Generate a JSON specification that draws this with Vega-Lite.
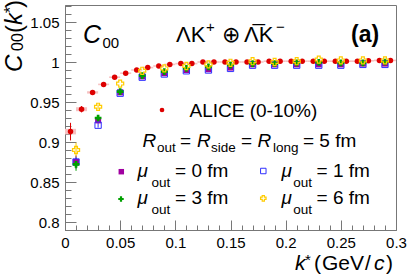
{
  "$schema": "https://vega.github.io/schema/vega-lite/v6.json",
  "width": 331,
  "height": 225,
  "autosize": {"type": "none"},
  "padding": {"left": 65, "top": 5, "right": 11, "bottom": 45},
  "background": "white",
  "config": {
    "view": {"stroke": "#777", "strokeWidth": 1},
    "text": {"font": "Liberation Sans", "color": "black", "align": "left", "baseline": "alphabetic"}
  },
  "datasets": {
    "alice": [
      {"k": 0.005, "c": 0.913, "elo": 0.902, "ehi": 0.924, "klo": 0.0, "khi": 0.01, "slo": 0.9095, "shi": 0.9165},
      {"k": 0.015, "c": 0.941, "elo": 0.937, "ehi": 0.945, "klo": 0.01, "khi": 0.02, "slo": 0.9385, "shi": 0.9435},
      {"k": 0.025, "c": 0.962, "elo": 0.960, "ehi": 0.964, "klo": 0.02, "khi": 0.03, "slo": 0.9605, "shi": 0.9635},
      {"k": 0.035, "c": 0.972, "elo": 0.971, "ehi": 0.973, "klo": 0.03, "khi": 0.04, "slo": 0.971, "shi": 0.973},
      {"k": 0.045, "c": 0.981, "elo": 0.980, "ehi": 0.982, "klo": 0.04, "khi": 0.05, "slo": 0.980, "shi": 0.982},
      {"k": 0.055, "c": 0.986, "elo": 0.985, "ehi": 0.987, "klo": 0.05, "khi": 0.06, "slo": 0.985, "shi": 0.987},
      {"k": 0.065, "c": 0.990, "elo": 0.989, "ehi": 0.991, "klo": 0.06, "khi": 0.07, "slo": 0.989, "shi": 0.991},
      {"k": 0.075, "c": 0.993, "elo": 0.992, "ehi": 0.994, "klo": 0.07, "khi": 0.08, "slo": 0.992, "shi": 0.994},
      {"k": 0.085, "c": 0.995, "elo": 0.994, "ehi": 0.996, "klo": 0.08, "khi": 0.09, "slo": 0.994, "shi": 0.996},
      {"k": 0.095, "c": 0.997, "elo": 0.996, "ehi": 0.998, "klo": 0.09, "khi": 0.10, "slo": 0.996, "shi": 0.998},
      {"k": 0.105, "c": 0.998, "elo": 0.997, "ehi": 0.999, "klo": 0.10, "khi": 0.11, "slo": 0.997, "shi": 0.999},
      {"k": 0.115, "c": 0.998, "elo": 0.997, "ehi": 0.999, "klo": 0.11, "khi": 0.12, "slo": 0.997, "shi": 0.999},
      {"k": 0.125, "c": 1.000, "elo": 0.999, "ehi": 1.001, "klo": 0.12, "khi": 0.13, "slo": 0.999, "shi": 1.001},
      {"k": 0.135, "c": 1.000, "elo": 0.999, "ehi": 1.001, "klo": 0.13, "khi": 0.14, "slo": 0.999, "shi": 1.001},
      {"k": 0.145, "c": 1.000, "elo": 0.999, "ehi": 1.001, "klo": 0.14, "khi": 0.15, "slo": 0.999, "shi": 1.001},
      {"k": 0.155, "c": 1.000, "elo": 0.999, "ehi": 1.001, "klo": 0.15, "khi": 0.16, "slo": 0.999, "shi": 1.001},
      {"k": 0.165, "c": 1.000, "elo": 0.999, "ehi": 1.001, "klo": 0.16, "khi": 0.17, "slo": 0.999, "shi": 1.001},
      {"k": 0.175, "c": 1.000, "elo": 0.999, "ehi": 1.001, "klo": 0.17, "khi": 0.18, "slo": 0.999, "shi": 1.001},
      {"k": 0.185, "c": 1.001, "elo": 1.000, "ehi": 1.002, "klo": 0.18, "khi": 0.19, "slo": 1.000, "shi": 1.002},
      {"k": 0.195, "c": 1.001, "elo": 1.000, "ehi": 1.002, "klo": 0.19, "khi": 0.20, "slo": 1.000, "shi": 1.002},
      {"k": 0.205, "c": 1.001, "elo": 1.000, "ehi": 1.002, "klo": 0.20, "khi": 0.21, "slo": 1.000, "shi": 1.002},
      {"k": 0.215, "c": 1.001, "elo": 1.000, "ehi": 1.002, "klo": 0.21, "khi": 0.22, "slo": 1.000, "shi": 1.002},
      {"k": 0.225, "c": 1.001, "elo": 1.000, "ehi": 1.002, "klo": 0.22, "khi": 0.23, "slo": 1.000, "shi": 1.002},
      {"k": 0.235, "c": 1.001, "elo": 1.000, "ehi": 1.002, "klo": 0.23, "khi": 0.24, "slo": 1.000, "shi": 1.002},
      {"k": 0.245, "c": 1.001, "elo": 1.000, "ehi": 1.002, "klo": 0.24, "khi": 0.25, "slo": 1.000, "shi": 1.002},
      {"k": 0.255, "c": 1.001, "elo": 1.000, "ehi": 1.002, "klo": 0.25, "khi": 0.26, "slo": 1.000, "shi": 1.002},
      {"k": 0.265, "c": 1.001, "elo": 1.000, "ehi": 1.002, "klo": 0.26, "khi": 0.27, "slo": 1.000, "shi": 1.002},
      {"k": 0.275, "c": 1.0015, "elo": 1.0005, "ehi": 1.0025, "klo": 0.27, "khi": 0.28, "slo": 1.0005, "shi": 1.0025},
      {"k": 0.285, "c": 1.002, "elo": 1.001, "ehi": 1.003, "klo": 0.28, "khi": 0.29, "slo": 1.001, "shi": 1.003},
      {"k": 0.295, "c": 1.002, "elo": 1.001, "ehi": 1.003, "klo": 0.29, "khi": 0.30, "slo": 1.001, "shi": 1.003}
    ],
    "model": [
      {"k": 0.01, "mu": "0", "c": 0.875, "lo": 0.867, "hi": 0.883},
      {"k": 0.03, "mu": "0", "c": 0.927, "lo": 0.924, "hi": 0.930},
      {"k": 0.05, "mu": "0", "c": 0.962},
      {"k": 0.07, "mu": "0", "c": 0.982},
      {"k": 0.09, "mu": "0", "c": 0.986},
      {"k": 0.11, "mu": "0", "c": 0.990},
      {"k": 0.13, "mu": "0", "c": 0.991},
      {"k": 0.15, "mu": "0", "c": 0.993},
      {"k": 0.17, "mu": "0", "c": 0.997},
      {"k": 0.19, "mu": "0", "c": 0.997},
      {"k": 0.21, "mu": "0", "c": 0.997},
      {"k": 0.23, "mu": "0", "c": 0.997},
      {"k": 0.25, "mu": "0", "c": 0.997},
      {"k": 0.27, "mu": "0", "c": 0.998},
      {"k": 0.29, "mu": "0", "c": 0.998},
      {"k": 0.01, "mu": "1", "c": 0.875, "lo": 0.867, "hi": 0.883},
      {"k": 0.03, "mu": "1", "c": 0.921, "lo": 0.918, "hi": 0.924},
      {"k": 0.05, "mu": "1", "c": 0.961},
      {"k": 0.07, "mu": "1", "c": 0.981},
      {"k": 0.09, "mu": "1", "c": 0.985},
      {"k": 0.11, "mu": "1", "c": 0.989},
      {"k": 0.13, "mu": "1", "c": 0.990},
      {"k": 0.15, "mu": "1", "c": 0.992},
      {"k": 0.17, "mu": "1", "c": 0.996},
      {"k": 0.19, "mu": "1", "c": 0.996},
      {"k": 0.21, "mu": "1", "c": 0.996},
      {"k": 0.23, "mu": "1", "c": 0.996},
      {"k": 0.25, "mu": "1", "c": 0.996},
      {"k": 0.27, "mu": "1", "c": 0.997},
      {"k": 0.29, "mu": "1", "c": 0.997},
      {"k": 0.01, "mu": "3", "c": 0.872, "lo": 0.864, "hi": 0.880},
      {"k": 0.03, "mu": "3", "c": 0.930, "lo": 0.927, "hi": 0.933},
      {"k": 0.05, "mu": "3", "c": 0.963},
      {"k": 0.07, "mu": "3", "c": 0.983},
      {"k": 0.09, "mu": "3", "c": 0.988},
      {"k": 0.11, "mu": "3", "c": 0.992},
      {"k": 0.13, "mu": "3", "c": 0.994},
      {"k": 0.15, "mu": "3", "c": 0.996},
      {"k": 0.17, "mu": "3", "c": 0.998},
      {"k": 0.19, "mu": "3", "c": 0.998},
      {"k": 0.21, "mu": "3", "c": 0.999},
      {"k": 0.23, "mu": "3", "c": 0.9995},
      {"k": 0.25, "mu": "3", "c": 0.999},
      {"k": 0.27, "mu": "3", "c": 0.999},
      {"k": 0.29, "mu": "3", "c": 1.000},
      {"k": 0.01, "mu": "6", "c": 0.890, "lo": 0.881, "hi": 0.899},
      {"k": 0.03, "mu": "6", "c": 0.944, "lo": 0.941, "hi": 0.947},
      {"k": 0.05, "mu": "6", "c": 0.973},
      {"k": 0.07, "mu": "6", "c": 0.989},
      {"k": 0.09, "mu": "6", "c": 0.992},
      {"k": 0.11, "mu": "6", "c": 0.995},
      {"k": 0.13, "mu": "6", "c": 0.997},
      {"k": 0.15, "mu": "6", "c": 0.999},
      {"k": 0.17, "mu": "6", "c": 1.001},
      {"k": 0.19, "mu": "6", "c": 1.000},
      {"k": 0.21, "mu": "6", "c": 1.001},
      {"k": 0.23, "mu": "6", "c": 1.003},
      {"k": 0.25, "mu": "6", "c": 1.002},
      {"k": 0.27, "mu": "6", "c": 1.002},
      {"k": 0.29, "mu": "6", "c": 1.002}
    ]
  },
  "resolve": {"axis": {"x": "independent", "y": "independent"}},
  "layer": [
    {
      "layer": [
        {
          "data": {"name": "alice"},
          "mark": {"type": "rect", "fill": "#f6c2c2"},
          "encoding": {
            "x": {"field": "klo", "type": "quantitative",
              "scale": {"domain": [0, 0.3], "nice": false, "zero": false},
              "axis": {
                "orient": "bottom", "title": null, "grid": false, "ticks": false,
                "values": [0, 0.05, 0.1, 0.15, 0.2, 0.25, 0.3],
                "format": ".2~f",
                "domainColor": "#777", "labelColor": "black",
                "labelFont": "Liberation Sans", "labelFontSize": 15, "labelPadding": 5,
                "labelFlush": false, "labelOverlap": false
              }},
            "x2": {"field": "khi"},
            "y": {"field": "slo", "type": "quantitative",
              "scale": {"domain": [0.79, 1.07125], "nice": false, "zero": false},
              "axis": {
                "orient": "left", "title": null, "grid": false, "ticks": false,
                "values": [0.8, 0.85, 0.9, 0.95, 1, 1.05],
                "format": ".2~f",
                "domainColor": "#777", "labelColor": "black",
                "labelFont": "Liberation Sans", "labelFontSize": 15, "labelPadding": 6,
                "labelFlush": false, "labelOverlap": false
              }},
            "y2": {"field": "shi"}
          }
        },
        {
          "data": {"name": "alice"},
          "mark": {"type": "rule", "color": "#dd0000", "strokeWidth": 1},
          "encoding": {
            "x": {"field": "k", "type": "quantitative"},
            "y": {"field": "elo", "type": "quantitative"},
            "y2": {"field": "ehi"}
          }
        },
        {
          "data": {"name": "alice"},
          "mark": {"type": "point", "shape": "circle", "filled": true, "color": "#dd0000", "size": 30, "opacity": 1},
          "encoding": {
            "x": {"field": "k", "type": "quantitative"},
            "y": {"field": "c", "type": "quantitative"}
          }
        },
        {
          "data": {"name": "model"},
          "transform": [{"filter": "isValid(datum.lo)"}],
          "mark": {"type": "rule", "strokeWidth": 1},
          "encoding": {
            "x": {"field": "k", "type": "quantitative"},
            "y": {"field": "lo", "type": "quantitative"},
            "y2": {"field": "hi"},
            "color": {"field": "mu", "type": "nominal", "legend": null,
              "scale": {"domain": ["0", "1", "3", "6"], "range": ["#a000a0", "#3030ff", "#00a000", "#ffcc00"]}}
          }
        },
        {
          "data": {"name": "model"},
          "transform": [{"filter": "datum.mu === '0'"}],
          "mark": {"type": "point", "shape": "square", "filled": true, "color": "#a000a0", "size": 36, "opacity": 1},
          "encoding": {"x": {"field": "k", "type": "quantitative"}, "y": {"field": "c", "type": "quantitative"}}
        },
        {
          "data": {"name": "model"},
          "transform": [{"filter": "datum.mu === '1'"}],
          "mark": {"type": "point", "shape": "square", "filled": false, "color": "#3030ff", "size": 40, "strokeWidth": 1, "opacity": 1},
          "encoding": {"x": {"field": "k", "type": "quantitative"}, "y": {"field": "c", "type": "quantitative"}}
        },
        {
          "data": {"name": "model"},
          "transform": [{"filter": "datum.mu === '3'"}],
          "mark": {"type": "point", "shape": "cross", "filled": true, "color": "#00a000", "size": 45, "opacity": 1},
          "encoding": {"x": {"field": "k", "type": "quantitative"}, "y": {"field": "c", "type": "quantitative"}}
        },
        {
          "data": {"name": "model"},
          "transform": [{"filter": "datum.mu === '6'"}],
          "mark": {"type": "point", "shape": "cross", "filled": false, "color": "#ffcc00", "size": 50, "strokeWidth": 1.2, "opacity": 1},
          "encoding": {"x": {"field": "k", "type": "quantitative"}, "y": {"field": "c", "type": "quantitative"}}
        },

        {"data": {"values": [{}]}, "mark": {"type": "text", "text": "C", "fontSize": 25, "fontStyle": "italic"},
         "encoding": {"x": {"datum": 0.01631}, "y": {"datum": 1.02338}}},
        {"data": {"values": [{}]}, "mark": {"type": "text", "text": "00", "fontSize": 15},
         "encoding": {"x": {"datum": 0.03399}, "y": {"datum": 1.01688}}},

        {"data": {"values": [{}]}, "mark": {"type": "text", "text": "ΛK", "fontSize": 22},
         "encoding": {"x": {"datum": 0.1006}, "y": {"datum": 1.02538}}},
        {"data": {"values": [{}]}, "mark": {"type": "text", "text": "+", "fontSize": 15},
         "encoding": {"x": {"datum": 0.1278}, "y": {"datum": 1.0375}}},
        {"data": {"values": [{}]}, "mark": {"type": "text", "text": "⊕", "fontSize": 22, "font": "DejaVu Sans"},
         "encoding": {"x": {"datum": 0.1423}, "y": {"datum": 1.02538}}},
        {"data": {"values": [{}]}, "mark": {"type": "text", "text": "Λ̅K", "fontSize": 22},
         "encoding": {"x": {"datum": 0.16224}, "y": {"datum": 1.02538}}},
        {"data": {"values": [{}]}, "mark": {"type": "text", "text": "−", "fontSize": 15},
         "encoding": {"x": {"datum": 0.19124}, "y": {"datum": 1.0375}}},
        {"data": {"values": [{}]}, "mark": {"type": "text", "text": "(a)", "fontSize": 23, "fontWeight": "bold"},
         "encoding": {"x": {"datum": 0.25921}, "y": {"datum": 1.025}}},

        {"data": {"values": [{}]}, "mark": {"type": "point", "shape": "circle", "filled": true, "color": "#dd0000", "size": 22, "opacity": 1},
         "encoding": {"x": {"datum": 0.08792}, "y": {"datum": 0.94}}},
        {"data": {"values": [{}]}, "mark": {"type": "text", "text": "ALICE (0-10%)", "fontSize": 19},
         "encoding": {"x": {"datum": 0.11284}, "y": {"datum": 0.93163}}},

        {"data": {"values": [{}]}, "mark": {"type": "text", "text": "R", "fontSize": 19, "fontStyle": "italic"},
         "encoding": {"x": {"datum": 0.07024}, "y": {"datum": 0.89413}}},
        {"data": {"values": [{}]}, "mark": {"type": "text", "text": "out", "fontSize": 13.5},
         "encoding": {"x": {"datum": 0.08338}, "y": {"datum": 0.8875}}},
        {"data": {"values": [{}]}, "mark": {"type": "text", "text": "=", "fontSize": 19},
         "encoding": {"x": {"datum": 0.10423}, "y": {"datum": 0.89413}}},
        {"data": {"values": [{}]}, "mark": {"type": "text", "text": "R", "fontSize": 19, "fontStyle": "italic"},
         "encoding": {"x": {"datum": 0.11964}, "y": {"datum": 0.89413}}},
        {"data": {"values": [{}]}, "mark": {"type": "text", "text": "side", "fontSize": 13.5},
         "encoding": {"x": {"datum": 0.13233}, "y": {"datum": 0.8875}}},
        {"data": {"values": [{}]}, "mark": {"type": "text", "text": "=", "fontSize": 19},
         "encoding": {"x": {"datum": 0.15952}, "y": {"datum": 0.89413}}},
        {"data": {"values": [{}]}, "mark": {"type": "text", "text": "R", "fontSize": 19, "fontStyle": "italic"},
         "encoding": {"x": {"datum": 0.17447}, "y": {"datum": 0.89413}}},
        {"data": {"values": [{}]}, "mark": {"type": "text", "text": "long", "fontSize": 13.5},
         "encoding": {"x": {"datum": 0.18852}, "y": {"datum": 0.8875}}},
        {"data": {"values": [{}]}, "mark": {"type": "text", "text": "= 5 fm", "fontSize": 19},
         "encoding": {"x": {"datum": 0.21571}, "y": {"datum": 0.89413}}},

        {"data": {"values": [{}]}, "mark": {"type": "point", "shape": "square", "filled": true, "color": "#a000a0", "size": 30, "opacity": 1},
         "encoding": {"x": {"datum": 0.05103}, "y": {"datum": 0.86288}}},
        {"data": {"values": [{}]}, "mark": {"type": "text", "text": "μ", "fontSize": 19, "fontStyle": "italic"},
         "encoding": {"x": {"datum": 0.06571}, "y": {"datum": 0.85663}}},
        {"data": {"values": [{}]}, "mark": {"type": "text", "text": "out", "fontSize": 13.5},
         "encoding": {"x": {"datum": 0.0784}, "y": {"datum": 0.84375}}},
        {"data": {"values": [{}]}, "mark": {"type": "text", "text": "= 0 fm", "fontSize": 19},
         "encoding": {"x": {"datum": 0.0997}, "y": {"datum": 0.85663}}},

        {"data": {"values": [{}]}, "mark": {"type": "point", "shape": "square", "filled": false, "color": "#3030ff", "size": 30, "strokeWidth": 1, "opacity": 1},
         "encoding": {"x": {"datum": 0.17973}, "y": {"datum": 0.86375}}},
        {"data": {"values": [{}]}, "mark": {"type": "text", "text": "μ", "fontSize": 19, "fontStyle": "italic"},
         "encoding": {"x": {"datum": 0.19622}, "y": {"datum": 0.85663}}},
        {"data": {"values": [{}]}, "mark": {"type": "text", "text": "out", "fontSize": 13.5},
         "encoding": {"x": {"datum": 0.20692}, "y": {"datum": 0.84375}}},
        {"data": {"values": [{}]}, "mark": {"type": "text", "text": "= 1 fm", "fontSize": 19},
         "encoding": {"x": {"datum": 0.22795}, "y": {"datum": 0.85663}}},

        {"data": {"values": [{}]}, "mark": {"type": "point", "shape": "cross", "filled": true, "color": "#00a000", "size": 30, "opacity": 1},
         "encoding": {"x": {"datum": 0.05076}, "y": {"datum": 0.82875}}},
        {"data": {"values": [{}]}, "mark": {"type": "text", "text": "μ", "fontSize": 19, "fontStyle": "italic"},
         "encoding": {"x": {"datum": 0.06571}, "y": {"datum": 0.82188}}},
        {"data": {"values": [{}]}, "mark": {"type": "text", "text": "out", "fontSize": 13.5},
         "encoding": {"x": {"datum": 0.0784}, "y": {"datum": 0.81}}},
        {"data": {"values": [{}]}, "mark": {"type": "text", "text": "= 3 fm", "fontSize": 19},
         "encoding": {"x": {"datum": 0.0997}, "y": {"datum": 0.82188}}},

        {"data": {"values": [{}]}, "mark": {"type": "point", "shape": "cross", "filled": false, "color": "#ffcc00", "size": 30, "strokeWidth": 1.2, "opacity": 1},
         "encoding": {"x": {"datum": 0.17973}, "y": {"datum": 0.82963}}},
        {"data": {"values": [{}]}, "mark": {"type": "text", "text": "μ", "fontSize": 19, "fontStyle": "italic"},
         "encoding": {"x": {"datum": 0.19622}, "y": {"datum": 0.82188}}},
        {"data": {"values": [{}]}, "mark": {"type": "text", "text": "out", "fontSize": 13.5},
         "encoding": {"x": {"datum": 0.20692}, "y": {"datum": 0.81}}},
        {"data": {"values": [{}]}, "mark": {"type": "text", "text": "= 6 fm", "fontSize": 19},
         "encoding": {"x": {"datum": 0.22795}, "y": {"datum": 0.82188}}},

        {"data": {"values": [{}]}, "mark": {"type": "text", "text": "k", "fontSize": 21, "fontStyle": "italic"},
         "encoding": {"x": {"datum": 0.20846}, "y": {"datum": 0.74}}},
        {"data": {"values": [{}]}, "mark": {"type": "text", "text": "*", "fontSize": 15},
         "encoding": {"x": {"datum": 0.21752}, "y": {"datum": 0.74625}}},
        {"data": {"values": [{}]}, "mark": {"type": "text", "text": "(", "fontSize": 21},
         "encoding": {"x": {"datum": 0.2257}, "y": {"datum": 0.74}}},
        {"data": {"values": [{}]}, "mark": {"type": "text", "text": "GeV", "fontSize": 21},
         "encoding": {"x": {"datum": 0.23296}, "y": {"datum": 0.74}}},
        {"data": {"values": [{}]}, "mark": {"type": "text", "text": "/", "fontSize": 21},
         "encoding": {"x": {"datum": 0.2719}, "y": {"datum": 0.74}}},
        {"data": {"values": [{}]}, "mark": {"type": "text", "text": "c", "fontSize": 21, "fontStyle": "italic"},
         "encoding": {"x": {"datum": 0.28007}, "y": {"datum": 0.74}}},
        {"data": {"values": [{}]}, "mark": {"type": "text", "text": ")", "fontSize": 21},
         "encoding": {"x": {"datum": 0.29094}, "y": {"datum": 0.74}}},

        {"data": {"values": [{}]}, "mark": {"type": "text", "text": "C", "fontSize": 24, "fontStyle": "italic", "angle": 270},
         "encoding": {"x": {"datum": -0.03852}, "y": {"datum": 0.9875}}},
        {"data": {"values": [{}]}, "mark": {"type": "text", "text": "00", "fontSize": 16, "angle": 270},
         "encoding": {"x": {"datum": -0.03762}, "y": {"datum": 1.01375}}},
        {"data": {"values": [{}]}, "mark": {"type": "text", "text": "(", "fontSize": 24, "angle": 270},
         "encoding": {"x": {"datum": -0.03852}, "y": {"datum": 1.03625}}},
        {"data": {"values": [{}]}, "mark": {"type": "text", "text": "k", "fontSize": 24, "fontStyle": "italic", "angle": 270},
         "encoding": {"x": {"datum": -0.03852}, "y": {"datum": 1.04625}}},
        {"data": {"values": [{}]}, "mark": {"type": "text", "text": "*", "fontSize": 16, "angle": 270},
         "encoding": {"x": {"datum": -0.04441}, "y": {"datum": 1.06125}}},
        {"data": {"values": [{}]}, "mark": {"type": "text", "text": ")", "fontSize": 24, "angle": 270},
         "encoding": {"x": {"datum": -0.03852}, "y": {"datum": 1.0675}}}
      ]
    },
    {
      "data": {"values": [{}]},
      "mark": {"type": "point", "opacity": 0},
      "encoding": {
        "x": {"datum": 0, "type": "quantitative", "axis": {
          "orient": "bottom", "title": null, "grid": false, "labels": false, "domain": false,
          "values": [0, 0.05, 0.1, 0.15, 0.2, 0.25, 0.3], "tickSize": -10, "tickColor": "#777"}},
        "y": {"datum": 0.8, "type": "quantitative", "axis": {
          "orient": "left", "title": null, "grid": false, "labels": false, "domain": false,
          "values": [0.8, 0.85, 0.9, 0.95, 1, 1.05], "tickSize": -11, "tickColor": "#777"}}
      }
    },
    {
      "data": {"values": [{}]},
      "mark": {"type": "point", "opacity": 0},
      "encoding": {
        "x": {"datum": 0, "type": "quantitative", "axis": {
          "orient": "bottom", "title": null, "grid": false, "labels": false, "domain": false,
          "values": [0.01,0.02,0.03,0.04,0.06,0.07,0.08,0.09,0.11,0.12,0.13,0.14,0.16,0.17,0.18,0.19,0.21,0.22,0.23,0.24,0.26,0.27,0.28,0.29],
          "tickSize": -5, "tickColor": "#777"}},
        "y": {"datum": 0.8, "type": "quantitative", "axis": {
          "orient": "left", "title": null, "grid": false, "labels": false, "domain": false,
          "values": [0.79,0.81,0.82,0.83,0.84,0.86,0.87,0.88,0.89,0.91,0.92,0.93,0.94,0.96,0.97,0.98,0.99,1.01,1.02,1.03,1.04,1.06,1.07],
          "tickSize": -6, "tickColor": "#777"}}
      }
    }
  ]
}
